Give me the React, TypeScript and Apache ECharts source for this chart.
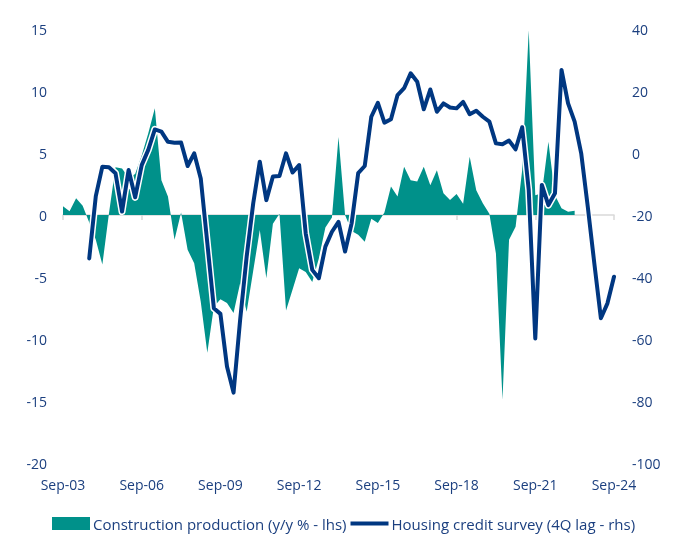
import React, { useEffect, useRef } from "react";
import * as echarts from "echarts";

// Quarterly categories Sep-03 .. Sep-24
const quarterMonths = ["Sep", "Dec", "Mar", "Jun"];
const categories: string[] = [];
for (let i = 0; i <= 84; i++) {
  const m = quarterMonths[i % 4];
  const year = 3 + Math.floor(i / 4) + (i % 4 >= 2 ? 1 : 0);
  categories.push(m + "-" + String(year).padStart(2, "0"));
}

const leftTicks = [-20, -15, -10, -5, 0, 5, 10, 15];
const rightTicks = [-100, -80, -60, -40, -20, 0, 20, 40];

// Construction production (y/y %, lhs), Sep-03 .. Mar-23
const construction = [
  0.7, 0.3, 1.35, 0.75, -0.6, -2.0, -4.0, 0.1, 3.85, 3.75,
  3.0, 3.3, 4.8, 6.6, 8.6, 2.8, 1.5, -2.0, 0.2, -2.8,
  -3.9, -7.0, -11.1, -7.4, -6.8, -7.1, -7.9, -5.5, -7.8, -4.5,
  -1.2, -5.1, -0.7, 0.1, -7.7, -6.0, -4.3, -4.6, -5.4, -3.5,
  -1.0, -0.2, 6.3, 0.0, -1.3, -1.6, -2.15, -0.3, -0.65, 0.2,
  2.3, 1.5, 3.9, 2.8, 2.7, 3.9, 2.4, 3.6, 1.75, 1.2,
  1.7, 0.9, 4.7, 2.0, 0.95, 0.1, -3.1, -14.9, -2.0, -0.95,
  3.6, 14.9, 1.6, 1.75, 5.9, 1.6, 0.55, 0.27, 0.35,
];

// Housing credit survey (4Q lag, rhs), Sep-04 .. Sep-24
const housingCredit = [
  null, null, null, null,
  -34.0, -13.9, -4.4, -4.6, -6.5, -18.9, -5.5, -14.3, -3.9, 1.0,
  7.6, 6.9, 3.6, 3.3, 3.4, -4.2, -0.1, -8.2, -29.0, -50.1,
  -51.9, -68.9, -77.3, -53.9, -33.4, -16.2, -2.8, -15.2, -7.6, -7.4,
  -0.1, -6.3, -3.9, -25.9, -37.7, -40.4, -30.2, -25.4, -22.2, -31.8,
  -22.7, -6.5, -4.2, 11.7, 16.2, 9.8, 10.9, 18.7, 20.9, 25.7,
  23.0, 14.1, 20.5, 13.3, 16.0, 14.7, 14.4, 16.5, 12.5, 13.6,
  11.7, 10.1, 3.1, 2.8, 4.0, 1.2, 8.3, -11.9, -59.8, -10.3,
  -16.8, -13.0, 26.8, 16.0, 10.1, -0.1, -17.3, -35.6, -53.3, -48.5,
  -39.9,
];

const TEAL = "#00918a";
const BLUE = "#003781";
const TEXT = "#1b3f7f";
const FONT = "Open Sans";

export default function App() {
  const ref = useRef<HTMLDivElement>(null);
  useEffect(() => {
    if (!ref.current) return;
    const chart = echarts.init(ref.current, undefined, { renderer: "svg" });
    const labelInterval = (idx: number) => idx % 12 === 0;
    chart.setOption({
      animation: false,
      textStyle: { fontFamily: FONT },
      grid: { left: 63, right: 71, top: 29, bottom: 77, containLabel: false },
      legend: {
        top: 511,
        left: 47,
        itemGap: 4,
        itemWidth: 38,
        itemHeight: 13,
        textStyle: { color: TEXT, fontSize: 15, fontFamily: FONT, padding: [0, 0, 0, -2] },
        data: [
          { name: "Construction production (y/y % - lhs)", icon: "rect" },
          {
            name: "Housing credit survey (4Q lag - rhs)",
            icon: "path://M0,5 L40,5 L40,9 L0,9 Z",
            itemStyle: { color: BLUE },
          },
        ],
      },
      xAxis: [
        {
          type: "category",
          data: categories,
          boundaryGap: false,
          position: "bottom",
          axisLine: { show: false, onZero: false },
          axisTick: { show: false },
          axisLabel: {
            interval: labelInterval,
            color: TEXT,
            fontSize: 14,
            margin: 14,
            fontFamily: FONT,
          },
          splitLine: { show: false },
        },
        {
          type: "category",
          data: categories,
          boundaryGap: false,
          position: "bottom",
          axisLine: { show: true, onZero: true, onZeroAxisIndex: 0, lineStyle: { color: "#d9d9d9", width: 1.5 } },
          axisTick: { show: true, interval: labelInterval, length: 5, lineStyle: { color: "#d9d9d9", width: 1.5 } },
          axisLabel: { show: false },
          splitLine: { show: false },
        },
      ],
      yAxis: [
        {
          type: "value",
          min: leftTicks[0],
          max: leftTicks[leftTicks.length - 1],
          interval: 5,
          axisLine: { show: false },
          axisTick: { show: false },
          splitLine: { show: false },
          axisLabel: { color: TEXT, fontSize: 14, margin: 16, fontFamily: FONT },
        },
        {
          type: "value",
          min: rightTicks[0],
          max: rightTicks[rightTicks.length - 1],
          interval: 20,
          position: "right",
          axisLine: { show: false },
          axisTick: { show: false },
          splitLine: { show: false },
          axisLabel: { color: TEXT, fontSize: 14, margin: 18, fontFamily: FONT },
        },
      ],
      series: [
        {
          name: "Construction production (y/y % - lhs)",
          type: "line",
          xAxisIndex: 0,
          yAxisIndex: 0,
          data: construction,
          symbol: "none",
          lineStyle: { width: 0 },
          itemStyle: { color: TEAL },
          areaStyle: { color: TEAL, opacity: 1 },
          z: 2,
        },
        {
          name: "outline",
          type: "line",
          xAxisIndex: 0,
          yAxisIndex: 1,
          data: housingCredit,
          symbol: "none",
          lineStyle: { width: 7, color: "#ffffff", join: "round", cap: "round" },
          itemStyle: { color: "#ffffff" },
          z: 3,
          silent: true,
        },
        {
          name: "Housing credit survey (4Q lag - rhs)",
          type: "line",
          xAxisIndex: 0,
          yAxisIndex: 1,
          data: housingCredit,
          symbol: "none",
          lineStyle: { width: 4, color: BLUE, join: "round", cap: "round" },
          itemStyle: { color: BLUE },
          z: 4,
        },
      ],
    });
    return () => chart.dispose();
  }, []);
  return (
    <div
      ref={ref}
      style={{ position: "fixed", left: 0, top: 0, width: 685, height: 540 }}
    />
  );
}
